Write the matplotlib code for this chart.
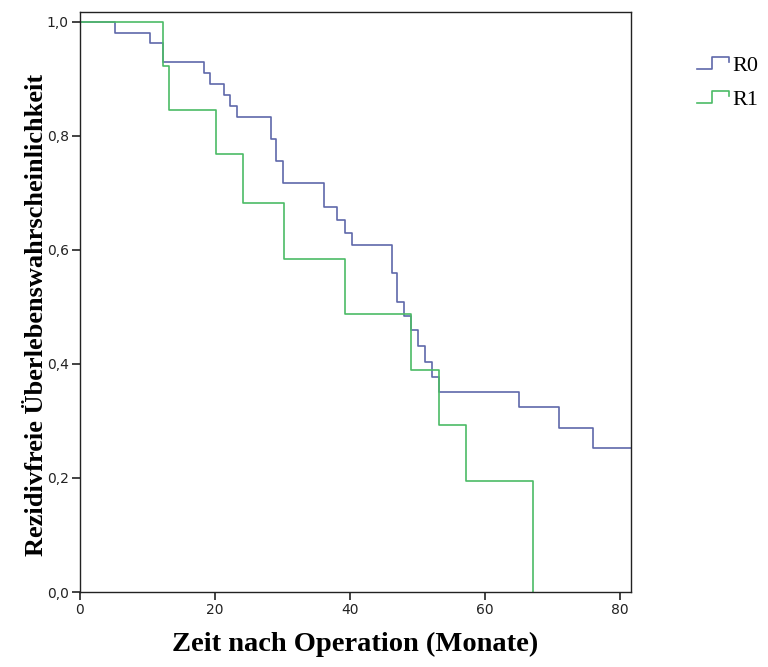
import numpy as np
import matplotlib
matplotlib.use("Agg")
import matplotlib.pyplot as plt
from matplotlib.lines import Line2D
from matplotlib.legend_handler import HandlerBase

# Data
r0_time = [0, 5.2, 10.4, 12.3, 18.4, 19.3, 21.3, 22.2, 23.2, 28.3, 29.1, 30.1,
           36.2, 38.0, 39.3, 40.3, 46.2, 47.0, 48.0, 49.0, 50.1, 51.1, 52.1,
           53.1, 65.0, 71.0, 76.0, 81.6]
r0_surv = [1.0, 0.981, 0.963, 0.929, 0.911, 0.891, 0.872, 0.852, 0.833, 0.795,
           0.756, 0.717, 0.676, 0.653, 0.630, 0.608, 0.560, 0.509, 0.484, 0.460,
           0.432, 0.404, 0.378, 0.351, 0.324, 0.288, 0.252, 0.252]
r1_time = [0, 12.3, 13.2, 20.2, 24.2, 30.2, 39.3, 49.0, 53.2, 57.1, 67.1]
r1_surv = [1.0, 0.923, 0.846, 0.769, 0.683, 0.585, 0.488, 0.390, 0.293, 0.195, 0.0]

series_labels = ["R0", "R1"]
x_ticks = [0, 20, 40, 60, 80]
y_ticks = [0.0, 0.2, 0.4, 0.6, 0.8, 1.0]
y_ticklabels = ["0,0", "0,2", "0,4", "0,6", "0,8", "1,0"]

c_r0 = "#5f68aa"
c_r1 = "#4cbb66"

fig = plt.figure(figsize=(7.68, 6.67), dpi=100)
ax = fig.add_axes([80/768, 1-592/667, (631-80)/768, (592-12)/667])

ax.step(r0_time, r0_surv, where="post", color=c_r0, lw=1.2, label=series_labels[0])
ax.step(r1_time, r1_surv, where="post", color=c_r1, lw=1.2, label=series_labels[1])

ax.set_xlim(0, 81.6)
ax.set_ylim(0, 1.0175)
ax.set_xticks(x_ticks)
ax.set_xticklabels([str(t) for t in x_ticks])
ax.set_yticks(y_ticks)
ax.set_yticklabels(y_ticklabels)

for s in ax.spines.values():
    s.set_linewidth(1.0)
    s.set_color("#222222")
ax.tick_params(axis="both", direction="out", length=6, width=1.2, color="#222222",
               labelsize=10, pad=2)
for lab in ax.get_xticklabels() + ax.get_yticklabels():
    lab.set_fontfamily("DejaVu Sans")
    lab.set_color("#222222")

ax.set_xlabel("Zeit nach Operation (Monate)", family="Liberation Serif",
              fontweight="bold", fontsize=20.5)
ax.xaxis.set_label_coords(0.5, -0.068)
ax.set_ylabel("Rezidivfreie Überlebenswahrscheinlichkeit", family="Liberation Serif",
              fontweight="bold", fontsize=19)
ax.yaxis.set_label_coords(-0.058, 0.478)


class StepHandler(HandlerBase):
    def create_artists(self, legend, orig_handle, xdescent, ydescent, width,
                       height, fontsize, trans):
        w, h = width, height
        xs = np.array([0, 0.47*w, 0.47*w, w, w]) - xdescent
        ys = np.array([0.1*h, 0.1*h, 0.9*h, 0.9*h, 0.55*h]) - ydescent
        ln = Line2D(xs, ys, color=orig_handle.get_color(), lw=1.2)
        ln.set_transform(trans)
        return [ln]


handles = [Line2D([], [], color=c_r0), Line2D([], [], color=c_r1)]
leg = fig.legend(handles, series_labels, loc="upper left",
                 bbox_to_anchor=(697/768, 1-55/667), frameon=False,
                 handler_map={Line2D: StepHandler()},
                 prop={"family": "Liberation Serif", "size": 16},
                 handlelength=1.45, handletextpad=0.15, labelspacing=0.62,
                 borderpad=0, borderaxespad=0)

fig.savefig("out.png", dpi=100)
